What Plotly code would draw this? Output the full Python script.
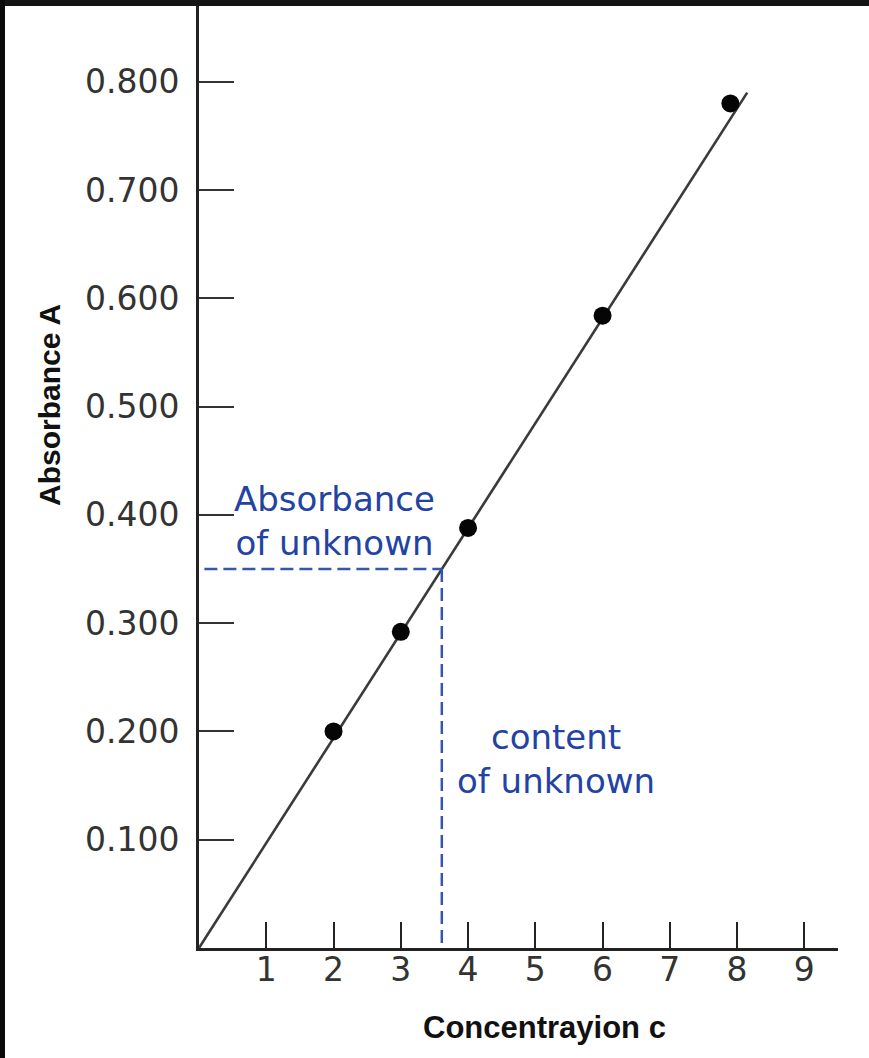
import plotly.graph_objects as go

# ---- data ----
concentration = [2, 3, 4, 6, 7.9]
absorbance = [0.200, 0.292, 0.388, 0.584, 0.780]
fit_x = [0, 8.15]
fit_y = [0, 0.790]
unknown_abs = 0.350
unknown_conc = 3.61
dash_start_x = 0.08
y_tickvals = [0.1, 0.2, 0.3, 0.4, 0.5, 0.6, 0.7, 0.8]
y_ticktext = ["0.100", "0.200", "0.300", "0.400", "0.500", "0.600", "0.700", "0.800"]
x_tickvals = [1, 2, 3, 4, 5, 6, 7, 8, 9]
x_ticktext = ["1", "2", "3", "4", "5", "6", "7", "8", "9"]

W, H = 869, 1058
ML, MR, MT, MB = 199, 31, 6, 110
PW, PH = W - ML - MR, H - MT - MB

def px_x(p):
    return (p - ML) / PW

def px_y(p):
    return (H - MB - p) / PH

blue_text = "#2343a3"
blue_line = "#3556ad"
tick_font = dict(family="DejaVu Sans", size=33, color="#333333")

fig = go.Figure()

fig.add_trace(go.Scatter(x=fit_x, y=fit_y, mode="lines",
                         line=dict(color="#3a3a3a", width=2.6), hoverinfo="skip"))
fig.add_trace(go.Scatter(x=[dash_start_x, unknown_conc], y=[unknown_abs, unknown_abs], mode="lines",
                         line=dict(color=blue_line, width=2.5, dash="13px,6px"), hoverinfo="skip"))
fig.add_trace(go.Scatter(x=[unknown_conc, unknown_conc], y=[unknown_abs, 0], mode="lines",
                         line=dict(color=blue_line, width=2.5, dash="13px,6px"), hoverinfo="skip"))
fig.add_trace(go.Scatter(x=concentration, y=absorbance, mode="markers",
                         marker=dict(color="#050505", size=18, symbol="circle")))

fig.update_layout(
    width=W, height=H,
    margin=dict(l=ML, r=MR, t=MT, b=MB, pad=0),
    paper_bgcolor="white", plot_bgcolor="white",
    showlegend=False,
    xaxis=dict(range=[0, 9.5], showgrid=False, zeroline=False,
               showline=True, linecolor="#222222", linewidth=2.6,
               ticks="inside", ticklen=26, tickwidth=2.4, tickcolor="#222222",
               tickvals=x_tickvals, ticktext=x_ticktext, tickfont=tick_font,
               ticklabelstandoff=-9),
    yaxis=dict(range=[0, 0.87], showgrid=False, zeroline=False,
               showline=True, linecolor="#222222", linewidth=2.6,
               ticks="inside", ticklen=35, tickwidth=2.0, tickcolor="#333333",
               tickvals=y_tickvals, ticktext=y_ticktext, tickfont=tick_font,
               ticklabelstandoff=10),
    font=dict(family="DejaVu Sans"),
)

# axis titles
fig.add_annotation(xref="paper", yref="paper", x=px_x(49), y=px_y(405),
                   xanchor="center", yanchor="middle",
                   text="<b>Absorbance A</b>", showarrow=False, textangle=-90,
                   font=dict(family="Liberation Sans", size=30, color="#111111"))
fig.add_annotation(xref="paper", yref="paper", x=px_x(544), y=px_y(1027),
                   xanchor="center", yanchor="middle",
                   text="<b>Concentrayion c</b>", showarrow=False,
                   font=dict(family="Liberation Sans", size=31, color="#111111"))

# blue labels
fig.add_annotation(xref="paper", yref="paper", x=px_x(334), y=px_y(521),
                   xanchor="center", yanchor="middle",
                   text="Absorbance<br>of unknown", showarrow=False, align="center",
                   font=dict(family="DejaVu Sans", size=34, color=blue_text))
fig.add_annotation(xref="paper", yref="paper", x=px_x(556), y=px_y(759),
                   xanchor="center", yanchor="middle",
                   text="content<br>of unknown", showarrow=False, align="center",
                   font=dict(family="DejaVu Sans", size=34, color=blue_text))

# dark scan border (top and left)
fig.add_shape(type="rect", xref="paper", yref="paper",
              x0=px_x(0), x1=px_x(W), y0=px_y(6), y1=px_y(0),
              fillcolor="#141414", line=dict(width=0), layer="above")
fig.add_shape(type="rect", xref="paper", yref="paper",
              x0=px_x(0), x1=px_x(5), y0=px_y(H), y1=px_y(0),
              fillcolor="#0a0a0a", line=dict(width=0), layer="above")

fig.write_html("out.html", config={"displayModeBar": False},
               post_script="document.body.style.margin='0';document.body.style.overflow='hidden';")
